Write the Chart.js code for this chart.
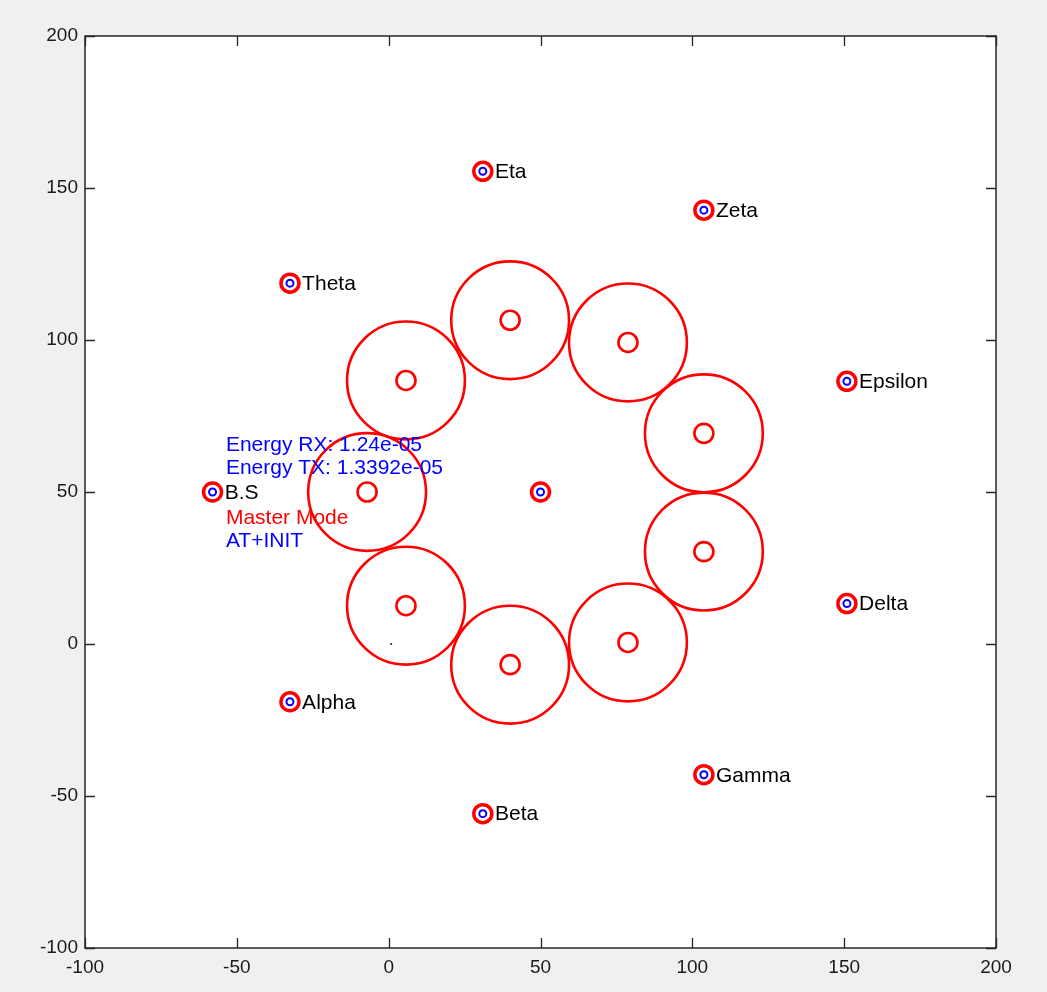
<!DOCTYPE html>
<html>
<head>
<meta charset="utf-8">
<script src="https://cdn.jsdelivr.net/npm/chart.js@4"></script>
<style>
  html, body { margin: 0; padding: 0; background: #f0f0f0; }
  #wrap { width: 1047px; height: 992px; }
</style>
</head>
<body>
<div id="wrap"><canvas id="myChart" width="1047" height="992"></canvas></div>
<script>
// axis ticks
let tickValues = [-100, -50, 0, 50, 100, 150, 200];

// nodes (red ring + blue dot)
let nodeNames = ["B.S", "Eta", "Zeta", "Theta", "Epsilon", "Delta", "Gamma", "Beta", "Alpha", ""];
let nodeX = [-58, 31, 103.8, -32.5, 150.9, 150.9, 103.8, 31, -32.5, 50];
let nodeY = [50, 155.5, 142.7, 118.7, 86.4, 13.3, -43, -55.8, -19, 50];

// cluster heads with their range circles
let clusterX = [40, 78.8, 103.8, 103.8, 78.8, 40, 5.7, -7.1, 5.7];
let clusterY = [106.5, 99.2, 69.3, 30.4, 0.5, -6.8, 12.6, 50, 86.7];
let rangeRadius = 19.4; // in axis units

// stray point
let strayX = [0.8];
let strayY = [0];

// status text
let infoText = ["Energy RX: 1.24e-05", "Energy TX: 1.3392e-05", "Master Mode", "AT+INIT"];
let infoColor = ["#0000ff", "#0000ff", "#ff0000", "#0000ff"];
let infoX = [-53.6, -53.6, -53.6, -53.6];
let infoY = [65.5, 57.9, 41.4, 33.9];

let labelOffset = 4;
let fontFam = "'Liberation Sans', Arial, sans-serif";

function pts(xs, ys) {
    return xs.map((x, i) => ({x: x, y: ys[i]}));
}

// big circle radius from the x scale
function rangePx(ctx) {
    let sx = ctx.chart.scales.x;
    if (!sx) return 0;
    return Math.abs(sx.getPixelForValue(rangeRadius) - sx.getPixelForValue(0));
}

// frame, inward ticks, labels
let decor = {
    id: "decor",
    beforeDraw(chart) {
        let c = chart.ctx, a = chart.chartArea;
        c.save();
        c.fillStyle = "#f0f0f0";
        c.fillRect(0, 0, chart.width, chart.height);
        c.fillStyle = "#ffffff";
        c.fillRect(a.left, a.top, a.right - a.left, a.bottom - a.top);
        c.restore();
    },
    afterDatasetsDraw(chart) {
        let c = chart.ctx, a = chart.chartArea;
        let sx = chart.scales.x, sy = chart.scales.y;
        c.save();
        c.font = "21px " + fontFam;
        c.textBaseline = "middle";
        c.textAlign = "left";
        c.fillStyle = "#000000";
        nodeNames.forEach((n, i) => {
            if (!n) return;
            c.fillText(n, sx.getPixelForValue(nodeX[i] + labelOffset), sy.getPixelForValue(nodeY[i]) + 1);
        });
        infoText.forEach((t, i) => {
            c.fillStyle = infoColor[i];
            c.fillText(t, sx.getPixelForValue(infoX[i]), sy.getPixelForValue(infoY[i]));
        });

        // frame
        c.strokeStyle = "#262626";
        c.lineWidth = 1.5;
        c.strokeRect(a.left, a.top, a.right - a.left, a.bottom - a.top);

        // ticks pointing in
        let tl = 10;
        c.lineWidth = 1.3;
        c.beginPath();
        tickValues.forEach(v => {
            let px = Math.round(sx.getPixelForValue(v)) + 0.5;
            c.moveTo(px, a.bottom); c.lineTo(px, a.bottom - tl);
            c.moveTo(px, a.top); c.lineTo(px, a.top + tl);
            let py = Math.round(sy.getPixelForValue(v)) + 0.5;
            c.moveTo(a.left, py); c.lineTo(a.left + tl, py);
            c.moveTo(a.right, py); c.lineTo(a.right - tl, py);
        });
        c.stroke();
        c.restore();
    }
};

let config = {
    type: "scatter",
    data: {
        datasets: [
            {
                label: "range",
                data: pts(clusterX, clusterY),
                pointRadius: rangePx,
                pointHoverRadius: rangePx,
                borderColor: "#ff0000",
                backgroundColor: "rgba(0,0,0,0)",
                borderWidth: 2.6
            },
            {
                label: "heads",
                data: pts(clusterX, clusterY),
                pointRadius: 9.5,
                borderColor: "#ff0000",
                backgroundColor: "rgba(0,0,0,0)",
                borderWidth: 2.6
            },
            {
                label: "nodeRing",
                data: pts(nodeX, nodeY),
                pointRadius: 9,
                borderColor: "#ff0000",
                backgroundColor: "rgba(0,0,0,0)",
                borderWidth: 3.5
            },
            {
                label: "nodeDot",
                data: pts(nodeX, nodeY),
                pointRadius: 3.5,
                borderColor: "#0000ff",
                backgroundColor: "rgba(0,0,0,0)",
                borderWidth: 2
            },
            {
                label: "stray",
                data: pts(strayX, strayY),
                pointRadius: 1,
                borderColor: "#0000ff",
                backgroundColor: "#0000ff",
                borderWidth: 0
            }
        ]
    },
    options: {
        responsive: false,
        animation: false,
        events: [],
        layout: { padding: { top: 36, right: 51, left: 0, bottom: 0 } },
        plugins: { legend: { display: false }, tooltip: { enabled: false } },
        scales: {
            x: {
                type: "linear",
                min: -100, max: 200,
                afterBuildTicks: s => { s.ticks = tickValues.map(v => ({value: v})); },
                afterFit: s => { s.height = 44; },
                grid: { display: false, drawTicks: false, tickLength: 0 },
                border: { display: false },
                ticks: {
                    autoSkip: false, maxRotation: 0, padding: 8,
                    color: "#1a1a1a", font: { family: fontFam, size: 19 }
                }
            },
            y: {
                type: "linear",
                min: -100, max: 200,
                afterBuildTicks: s => { s.ticks = tickValues.map(v => ({value: v})); },
                afterFit: s => { s.width = 85; },
                grid: { display: false, drawTicks: false, tickLength: 0 },
                border: { display: false },
                ticks: {
                    autoSkip: false, padding: 7,
                    color: "#1a1a1a", font: { family: fontFam, size: 19 }
                }
            }
        }
    },
    plugins: [decor]
};

let chart = new Chart(document.getElementById("myChart"), config);
</script>
</body>
</html>
